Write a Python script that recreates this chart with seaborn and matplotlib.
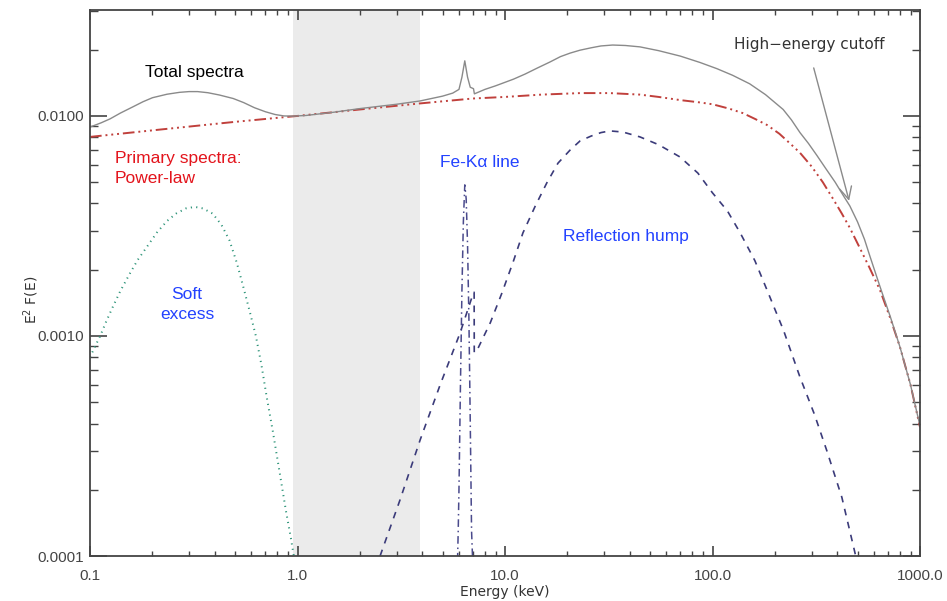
import numpy as np
import pandas as pd
import matplotlib
matplotlib.use("Agg")
import matplotlib.pyplot as plt
from matplotlib.ticker import FixedLocator, FixedFormatter, LogLocator, NullFormatter
import seaborn as sns

# ---------------- data ----------------
total_e = [0.100, 0.113, 0.125, 0.140, 0.161, 0.180, 0.200, 0.235, 0.270, 0.300,
           0.330, 0.370, 0.420, 0.490, 0.550, 0.620, 0.700, 0.780, 0.860, 0.950,
           1.10, 1.50, 2.00, 3.00, 3.90, 5.00, 5.60, 6.00, 6.20, 6.40,
           6.60, 6.80, 7.05, 7.12, 8.00, 9.00, 9.77, 11.0, 12.5, 14.3,
           16.5, 18.5, 20.6, 23.0, 26.0, 29.0, 33.0, 38.0, 44.7, 55.0,
           70.0, 87.0, 105.0, 125.0, 151.0, 180.0, 219.0, 240.0, 264.0, 290.0,
           319.0, 350.0, 390.0, 430.0, 459.0, 500.0, 540.0, 574.0, 641.0, 720.0,
           801.0, 900.0, 1000.0]
total_v = [8.9e-3, 9.3e-3, 9.7e-3, 1.03e-2, 1.10e-2, 1.16e-2, 1.21e-2, 1.255e-2, 1.28e-2, 1.29e-2,
           1.29e-2, 1.275e-2, 1.245e-2, 1.20e-2, 1.15e-2, 1.09e-2, 1.045e-2, 1.015e-2, 1.0e-2, 0.998e-2,
           1.005e-2, 1.04e-2, 1.08e-2, 1.13e-2, 1.17e-2, 1.23e-2, 1.27e-2, 1.32e-2, 1.50e-2, 1.78e-2,
           1.50e-2, 1.35e-2, 1.33e-2, 1.26e-2, 1.32e-2, 1.37e-2, 1.41e-2, 1.47e-2, 1.55e-2, 1.65e-2,
           1.76e-2, 1.86e-2, 1.93e-2, 1.99e-2, 2.04e-2, 2.08e-2, 2.10e-2, 2.09e-2, 2.06e-2, 1.98e-2,
           1.87e-2, 1.75e-2, 1.64e-2, 1.53e-2, 1.40e-2, 1.25e-2, 1.07e-2, 9.6e-3, 8.4e-3, 7.5e-3,
           6.6e-3, 5.8e-3, 5.0e-3, 4.3e-3, 3.9e-3, 3.3e-3, 2.75e-3, 2.3e-3, 1.68e-3, 1.22e-3,
           8.9e-4, 6.0e-4, 3.9e-4]

power_e = [0.1, 0.2, 0.5, 1.0, 2.0, 3.9, 7.0, 10.0, 15.0, 23.0, 32.0, 44.7, 55.0, 70.0,
           85.0, 100.0, 120.0, 140.0, 160.0, 183.0, 210.0, 240.0, 264.0, 300.0, 340.0, 381.0,
           420.0, 459.0, 514.0, 570.0, 641.0, 720.0, 801.0, 900.0, 1000.0]
power_v = [8.03e-3, 8.6e-3, 9.4e-3, 1.0e-2, 1.07e-2, 1.14e-2, 1.20e-2, 1.22e-2, 1.25e-2, 1.27e-2,
           1.27e-2, 1.25e-2, 1.22e-2, 1.18e-2, 1.155e-2, 1.13e-2, 1.08e-2, 1.03e-2, 9.7e-3, 9.1e-3,
           8.3e-3, 7.4e-3, 6.8e-3, 5.9e-3, 5.0e-3, 4.2e-3, 3.6e-3, 3.1e-3, 2.5e-3, 2.05e-3,
           1.62e-3, 1.2e-3, 8.9e-4, 6.0e-4, 3.85e-4]

refl_e = [2.5, 3.12, 3.9, 4.87, 6.07, 6.93, 7.10, 7.11, 7.33, 8.5, 9.67, 11.0, 12.2, 14.0,
          15.9, 18.0, 20.6, 23.0, 26.0, 29.0, 32.0, 37.0, 44.7, 55.0, 69.7, 85.0, 100.0, 118.0,
          136.0, 160.0, 183.0, 220.0, 264.0, 310.0, 356.0, 420.0, 490.0]
refl_v = [1.0e-4, 1.8e-4, 3.37e-4, 6.0e-4, 1.03e-3, 1.50e-3, 1.58e-3, 8.4e-4, 8.6e-4, 1.15e-3,
          1.57e-3, 2.2e-3, 2.94e-3, 3.9e-3, 4.96e-3, 6.1e-3, 7.0e-3, 7.7e-3, 8.1e-3, 8.4e-3,
          8.55e-3, 8.45e-3, 8.03e-3, 7.4e-3, 6.51e-3, 5.5e-3, 4.47e-3, 3.7e-3, 2.94e-3, 2.2e-3,
          1.62e-3, 1.06e-3, 6.5e-4, 4.4e-4, 3.0e-4, 1.85e-4, 1.0e-4]

feka_e = [5.88, 5.95, 6.00, 6.10, 6.20, 6.30, 6.40, 6.50, 6.60, 6.70, 6.80, 6.90, 7.00]
feka_v = [0.8e-4, 1.3e-4, 2.0e-4, 6.0e-4, 1.6e-3, 3.3e-3, 4.86e-3, 4.2e-3, 2.6e-3, 1.2e-3, 4.1e-4, 1.3e-4, 0.9e-4]

soft_e = [0.100, 0.106, 0.112, 0.120, 0.129, 0.140, 0.156, 0.170, 0.188, 0.210,
          0.235, 0.260, 0.290, 0.320, 0.350, 0.390, 0.430, 0.470, 0.510, 0.550,
          0.590, 0.630, 0.670, 0.710, 0.760, 0.820, 0.880, 0.930, 0.960]
soft_v = [8.0e-4, 9.0e-4, 1.0e-3, 1.17e-3, 1.36e-3, 1.60e-3, 1.93e-3, 2.22e-3, 2.54e-3, 2.95e-3,
          3.33e-3, 3.60e-3, 3.80e-3, 3.86e-3, 3.80e-3, 3.60e-3, 3.20e-3, 2.72e-3, 2.15e-3, 1.65e-3,
          1.28e-3, 1.00e-3, 7.4e-4, 5.3e-4, 3.7e-4, 2.4e-4, 1.6e-4, 1.2e-4, 1.0e-4]

band = [0.955, 3.9]
xticks = [0.1, 1.0, 10.0, 100.0, 1000.0]
xtick_labels = ["0.1", "1.0", "10.0", "100.0", "1000.0"]
yticks = [1e-4, 1e-3, 1e-2]
ytick_labels = ["0.0001", "0.0010", "0.0100"]

# ---------------- figure ----------------
sns.set_style("white")
plt.rcParams['font.family'] = ['Liberation Sans', 'DejaVu Sans']

fig = plt.figure(figsize=(9.47, 6.01), dpi=100)
ax = fig.add_axes([90 / 947, 1 - 556 / 601, 830 / 947, 546 / 601])
ax.set_xscale("log")
ax.set_yscale("log")

ax.axvspan(band[0], band[1], color="#ebebeb", zorder=0, lw=0)

sns.lineplot(x=soft_e, y=soft_v, ax=ax, color="#2e9479", lw=1.4,
             linestyle=(0, (0.6, 2.2)), estimator=None, sort=False)
sns.lineplot(x=feka_e, y=feka_v, ax=ax, color="#4a4a8c", lw=1.1,
             linestyle=(0, (5, 2.5, 1, 2.5)), estimator=None, sort=False)
sns.lineplot(x=refl_e, y=refl_v, ax=ax, color="#3b3b7a", lw=1.2,
             linestyle=(0, (4, 4)), estimator=None, sort=False)
sns.lineplot(x=power_e, y=power_v, ax=ax, color="#c0403c", lw=1.4,
             linestyle=(0, (6, 2, 1, 2, 1, 2, 1, 2)), estimator=None, sort=False)
sns.lineplot(x=total_e, y=total_v, ax=ax, color="#8a8a8a", lw=1.0,
             estimator=None, sort=False)

ax.set_xlim(0.1, 1000)
ax.set_ylim(1e-4, 0.0303)

ax.xaxis.set_major_locator(FixedLocator(xticks))
ax.xaxis.set_major_formatter(FixedFormatter(xtick_labels))
ax.xaxis.set_minor_locator(LogLocator(base=10, subs=np.arange(2, 10)))
ax.xaxis.set_minor_formatter(NullFormatter())
ax.yaxis.set_major_locator(FixedLocator(yticks))
ax.yaxis.set_major_formatter(FixedFormatter(ytick_labels))
ax.yaxis.set_minor_locator(LogLocator(base=10, subs=np.arange(2, 10)))
ax.yaxis.set_minor_formatter(NullFormatter())

tc = "#444444"
ax.tick_params(axis="x", which="major", direction="in", length=7.5, width=1.2,
               color=tc, top=True, bottom=True, labelsize=11, labelcolor=tc, pad=9)
ax.tick_params(axis="x", which="minor", direction="in", length=3.8, width=1.0,
               color=tc, top=True, bottom=True)
ax.tick_params(axis="y", which="major", direction="in", length=12, width=1.2,
               color=tc, left=True, right=True, labelsize=11, labelcolor=tc, pad=4)
ax.tick_params(axis="y", which="minor", direction="in", length=6, width=1.0,
               color=tc, left=True, right=True)
for s in ax.spines.values():
    s.set_color(tc)
    s.set_linewidth(1.3)
ax.set_xlabel("Energy (keV)", family="DejaVu Sans", fontsize=10, color="#333333", labelpad=2)
ax.set_ylabel("E$^2$ F(E)", family="DejaVu Sans", fontsize=10, color="#333333")
ax.yaxis.set_label_coords(-0.059, 0.47)

# annotations
ax.text(0.066, 0.885, "Total spectra", transform=ax.transAxes, fontsize=12.5,
        color="black", ha="left", va="center")
ax.text(0.030, 0.7097, "Primary spectra:\nPower-law", transform=ax.transAxes, fontsize=12.5,
        color="#e3141c", ha="left", va="center", linespacing=1.35)
ax.text(0.117, 0.4606, "Soft\nexcess", transform=ax.transAxes, fontsize=12.5,
        color="#2342ff", ha="center", va="center", multialignment="center", linespacing=1.35)
ax.text(0.4217, 0.7198, "Fe-K\u03b1 line", transform=ax.transAxes, fontsize=12.5,
        color="#2342ff", ha="left", va="center")
ax.text(0.570, 0.586, "Reflection hump", transform=ax.transAxes, fontsize=12.5,
        color="#2342ff", ha="left", va="center")
ax.text(0.867, 0.936, "High\u2212energy cutoff", transform=ax.transAxes, fontsize=11,
        family="DejaVu Sans", color="#333333", ha="center", va="center")
ax.annotate("", xy=(459, 4.0e-3), xytext=(305, 1.70e-2), xycoords="data",
            arrowprops=dict(arrowstyle="->", color="#8a8a8a", lw=1.0, mutation_scale=22))

fig.savefig("out.png", dpi=100)
